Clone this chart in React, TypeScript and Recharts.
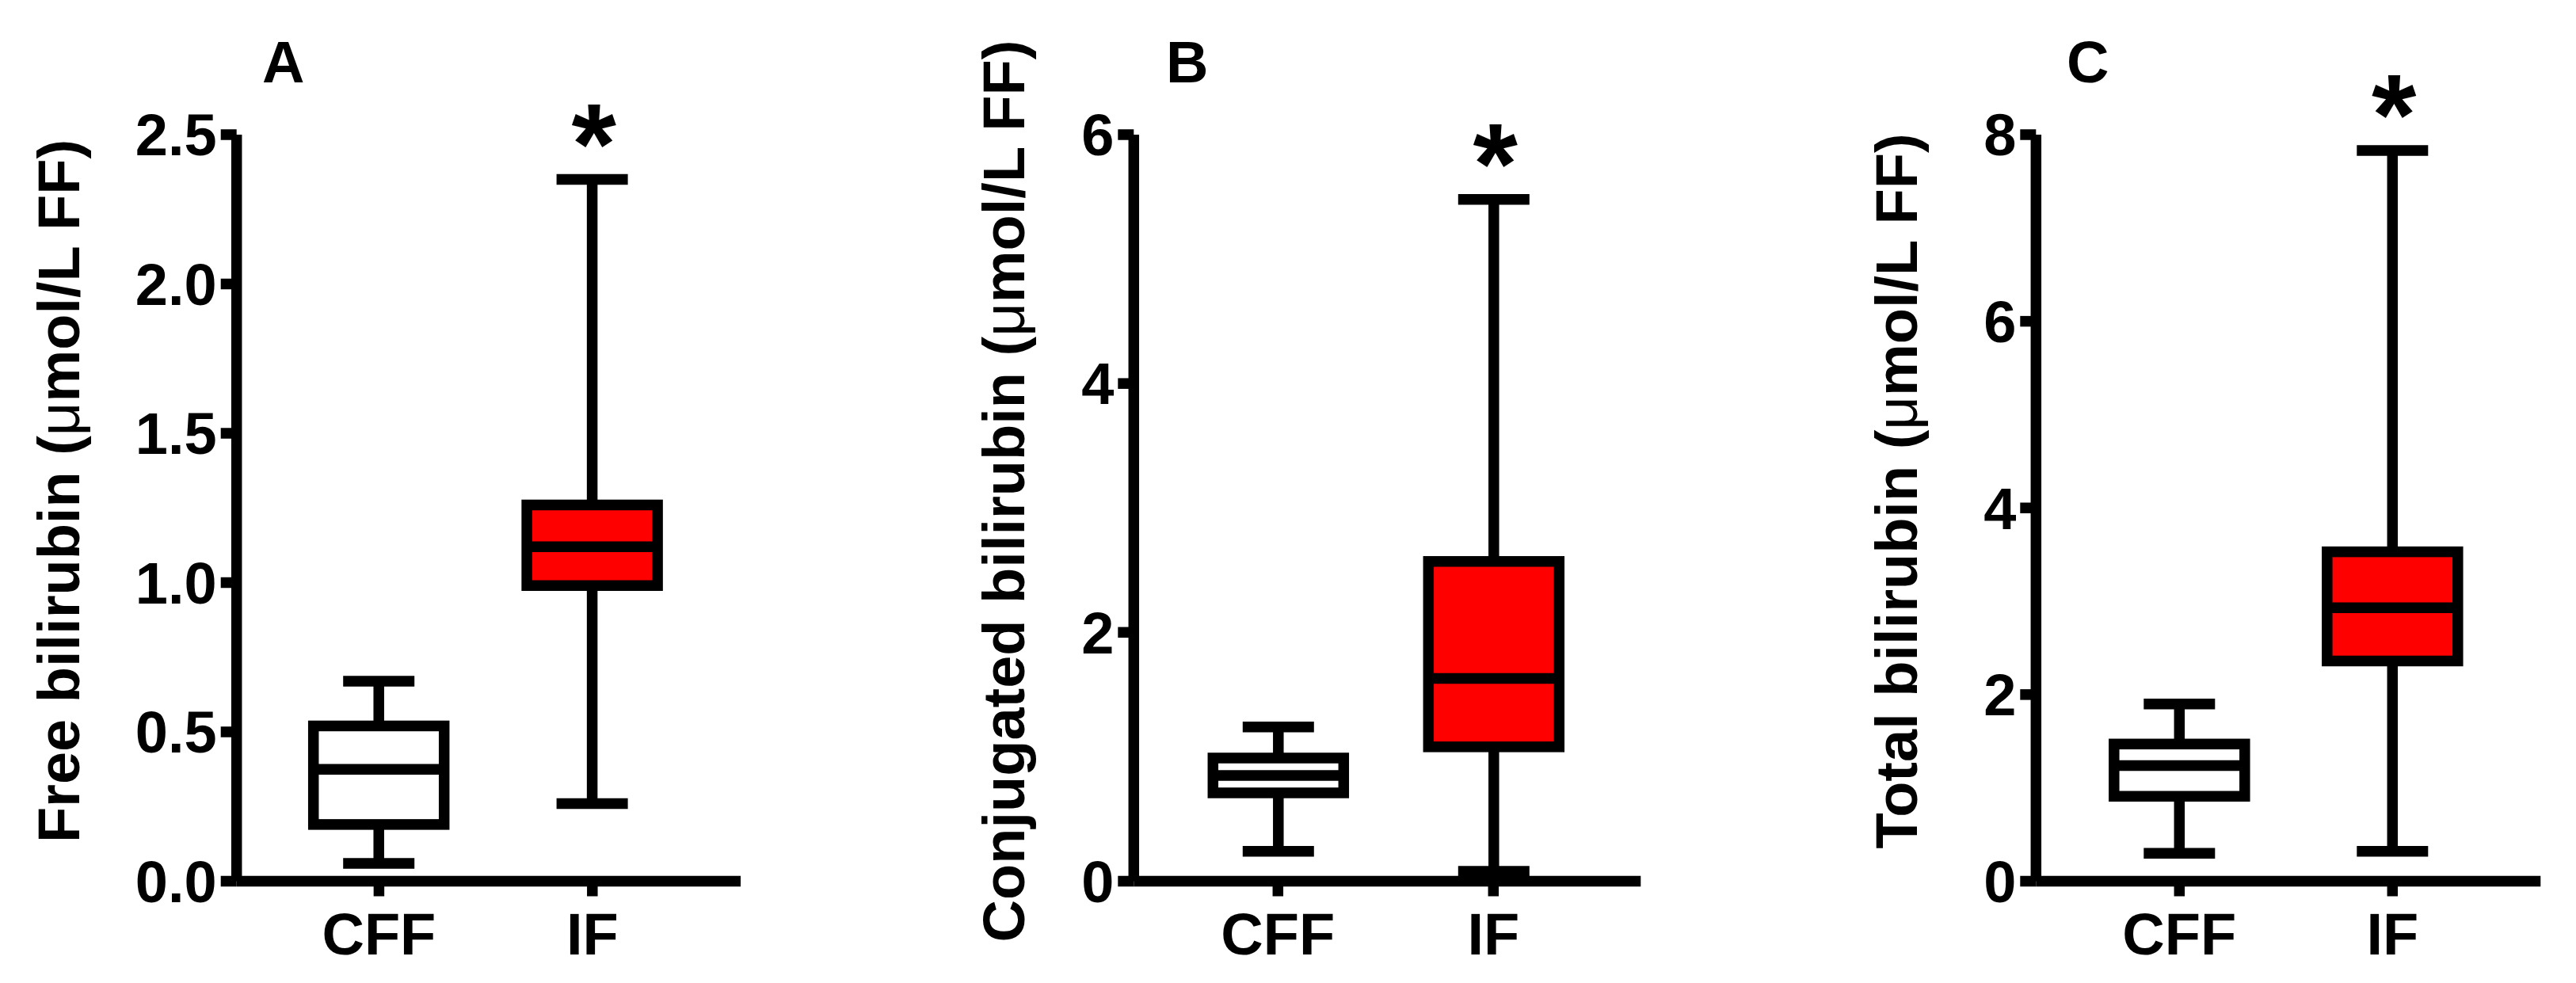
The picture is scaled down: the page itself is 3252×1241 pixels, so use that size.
import React from 'react';
import { ComposedChart, Bar, XAxis, YAxis } from 'recharts';

const groups = ['CFF', 'IF'];
const boxFills = ['#ffffff', '#ff0000'];
const significance = ['', '*'];

// A - free bilirubin
const freeMin = [0.06, 0.26];
const freeQ1 = [0.19, 0.99];
const freeMedian = [0.375, 1.12];
const freeQ3 = [0.52, 1.26];
const freeMax = [0.67, 2.35];
const freeTicks = [0, 0.5, 1, 1.5, 2, 2.5];

// B - conjugated bilirubin
const conjMin = [0.24, 0.08];
const conjQ1 = [0.71, 1.08];
const conjMedian = [0.85, 1.63];
const conjQ3 = [0.99, 2.57];
const conjMax = [1.24, 5.48];
const conjTicks = [0, 2, 4, 6];

// C - total bilirubin
const totalMin = [0.3, 0.32];
const totalQ1 = [0.91, 2.36];
const totalMedian = [1.24, 2.93];
const totalQ3 = [1.47, 3.53];
const totalMax = [1.9, 7.83];
const totalTicks = [0, 2, 4, 6, 8];

const FONT = '"Liberation Sans", Arial, Helvetica, sans-serif';
const STROKE = 13.5;

const buildRows = (
  mins: number[],
  q1s: number[],
  medians: number[],
  q3s: number[],
  maxs: number[]
) =>
  groups.map((g, i) => ({
    group: g,
    range: [mins[i], maxs[i]],
    min: mins[i],
    q1: q1s[i],
    median: medians[i],
    q3: q3s[i],
    max: maxs[i],
    fill: boxFills[i],
    sig: significance[i],
  }));

// draws whiskers, box, median and the significance mark from the bar's min..max extent
const BoxShape = (props: any) => {
  const { x, y, width, height, payload } = props;
  if (!payload || width == null) return null;
  const top = Math.min(y, y + height);
  const span = Math.abs(height);
  const { min, q1, median, q3, max, fill, sig } = payload;
  const toY = (v: number) => top + ((max - v) / (max - min)) * span;
  const cx = x + width / 2;
  const half = width / 2;
  const cap = 45;
  return (
    <g>
      <line x1={cx} x2={cx} y1={toY(max)} y2={toY(q3)} stroke="#000" strokeWidth={STROKE} />
      <line x1={cx} x2={cx} y1={toY(q1)} y2={toY(min)} stroke="#000" strokeWidth={STROKE} />
      <line x1={cx - cap} x2={cx + cap} y1={toY(max)} y2={toY(max)} stroke="#000" strokeWidth={STROKE} />
      <line x1={cx - cap} x2={cx + cap} y1={toY(min)} y2={toY(min)} stroke="#000" strokeWidth={STROKE} />
      <rect
        x={cx - half}
        y={toY(q3)}
        width={width}
        height={toY(q1) - toY(q3)}
        fill={fill}
        stroke="#000"
        strokeWidth={STROKE}
      />
      <line x1={cx - half} x2={cx + half} y1={toY(median)} y2={toY(median)} stroke="#000" strokeWidth={STROKE} />
      {sig ? (
        <text
          x={cx + 2}
          y={toY(max) + 5}
          textAnchor="middle"
          fontSize={145}
          fontWeight="bold"
          fontFamily={FONT}
          fill="#000"
        >
          {sig}
        </text>
      ) : null}
    </g>
  );
};

const panels = [
  {
    letter: 'A',
    letterX: 331,
    title: 'Free bilirubin',
    left: 0,
    width: 1000,
    axisX: 298.7,
    plotW: 636.3,
    labelX: 100,
    padL: 45,
    padR: 52.5,
    domainMax: 2.5,
    ticks: freeTicks,
    decimals: 1,
    rows: buildRows(freeMin, freeQ1, freeMedian, freeQ3, freeMax),
  },
  {
    letter: 'B',
    letterX: 1472,
    title: 'Conjugated bilirubin',
    left: 1000,
    width: 1150,
    axisX: 1431.3,
    plotW: 640,
    labelX: 1293,
    padL: 46,
    padR: 50,
    domainMax: 6,
    ticks: conjTicks,
    decimals: 0,
    rows: buildRows(conjMin, conjQ1, conjMedian, conjQ3, conjMax),
  },
  {
    letter: 'C',
    letterX: 2609,
    title: 'Total bilirubin',
    left: 2150,
    width: 1102,
    axisX: 2570.3,
    plotW: 637,
    labelX: 2420,
    padL: 46.5,
    padR: 52.5,
    domainMax: 8,
    ticks: totalTicks,
    decimals: 0,
    rows: buildRows(totalMin, totalQ1, totalMedian, totalQ3, totalMax),
  },
];

const CHART_H = 1241;
const PLOT_TOP = 170;
const X_AXIS_H = 100;
const BOTTOM = 28.5;
const LABEL_CY = 620;

const Panel = ({ p }: { p: (typeof panels)[number] }) => {
  const yAxisW = p.axisX - p.left;
  const right = p.width - yAxisW - p.plotW;
  const tickFont = { fontSize: 74, fontWeight: 'bold', fill: '#000', fontFamily: FONT };
  const renderYLabel = () => {
    const lx = p.labelX - p.left;
    const ly = LABEL_CY;
    return (
      <text
        x={lx}
        y={ly}
        transform={`rotate(-90, ${lx}, ${ly})`}
        textAnchor="middle"
        fontSize={74}
        fontWeight="bold"
        fontFamily={FONT}
        fill="#000"
      >
        {p.title} (<tspan fontWeight="normal">μ</tspan>mol/L FF)
      </text>
    );
  };
  return (
    <div style={{ position: 'absolute', left: p.left, top: 0, width: p.width, height: CHART_H }}>
      <ComposedChart
        width={p.width}
        height={CHART_H}
        data={p.rows}
        margin={{ top: PLOT_TOP, right, bottom: BOTTOM, left: 0 }}
      >
        <XAxis
          dataKey="group"
          type="category"
          height={X_AXIS_H}
          padding={{ left: p.padL, right: p.padR }}
          axisLine={{ stroke: '#000', strokeWidth: STROKE }}
          tickLine={{ stroke: '#000', strokeWidth: STROKE }}
          tickSize={19}
          tickMargin={21}
          tick={tickFont}
        />
        <YAxis
          type="number"
          width={yAxisW}
          domain={[0, p.domainMax]}
          ticks={p.ticks}
          interval={0}
          axisLine={{ stroke: '#000', strokeWidth: STROKE }}
          tickLine={{ stroke: '#000', strokeWidth: STROKE }}
          tickSize={20}
          tickMargin={5}
          tick={tickFont}
          tickFormatter={(v: number) => v.toFixed(p.decimals)}
          label={renderYLabel}
        />
        <Bar dataKey="range" barSize={165} shape={BoxShape} isAnimationActive={false} />
        <text
          x={p.letterX - p.left}
          y={104}
          fontSize={74}
          fontWeight="bold"
          fontFamily={FONT}
          fill="#000"
        >
          {p.letter}
        </text>
      </ComposedChart>
    </div>
  );
}

export default function App() {
  return (
    <div
      style={{
        position: 'absolute',
        left: 0,
        top: 0,
        width: 3252,
        height: 1241,
        background: '#fff',
        overflow: 'hidden',
      }}
    >
      {panels.map((p) => (
        <Panel key={p.letter} p={p} />
      ))}
    </div>
  );
}
